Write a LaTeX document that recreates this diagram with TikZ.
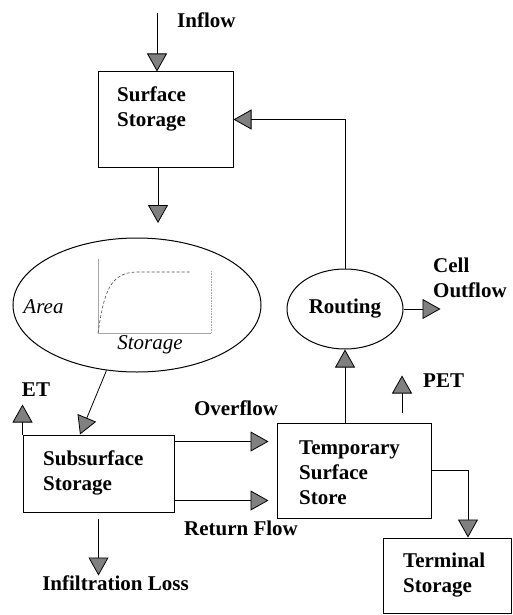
\documentclass[tikz,border=0pt]{standalone}
\usepackage{fontspec}
\setmainfont{Liberation Serif}
\usetikzlibrary{arrows.meta,shapes.geometric}

\begin{document}
\begin{tikzpicture}[x=1pt,y=-1pt,
  box/.style={draw, line width=1pt, inner sep=0pt},
  bubble/.style={draw, ellipse, line width=1pt, inner sep=0pt},
  lbl/.style={font=\fontsize{21}{25}\selectfont\bfseries, align=left, inner sep=0pt},
  axislbl/.style={font=\fontsize{21}{25}\selectfont\itshape, inner sep=0pt},
  flowarrow/.style={line width=0.8pt, -{Triangle[length=18pt,width=20pt,fill=black!50]}}]

\useasboundingbox (0,0) rectangle (512,615);

%draw the stores
\node [box, minimum width=135pt, minimum height=95pt] (surf) at (165.5,119.5) {};
\node [lbl, anchor=west] (surftxt) at (117,108.5) {Surface\\Storage};

\node [box, minimum width=151pt, minimum height=77pt] (sub) at (98.5,473.5) {};
\node [lbl, anchor=west] (subtxt) at (43,472.5) {Subsurface\\Storage};

\node [box, minimum width=154pt, minimum height=95pt] (temp) at (354,470.5) {};
\node [lbl, anchor=west] (temptxt) at (299,473) {Temporary\\Surface\\Store};

\node [box, minimum width=128pt, minimum height=75pt] (term) at (447,575.5) {};
\node [lbl, anchor=west] (termtxt) at (403,575.5) {Terminal\\Storage};

%draw the area-storage curve
\node [bubble, minimum width=248pt, minimum height=134pt] (area) at (137,305) {};
\node [axislbl] (arealbl) at (43.5,307) {Area};
\node [axislbl] (storlbl) at (150,345) {Storage};
\draw [gray!70, line width=0.7pt] (98,259) -- (98,333) -- (211,333);
\draw [gray!70, line width=0.6pt, densely dotted] (211,271) -- (211,333);
\draw [black!70, line width=0.6pt, densely dashed] (98,333) .. controls (104,292) and (110,273) .. (136,272) -- (190,272);

\node [bubble, minimum width=116pt, minimum height=80pt, lbl] (routing) at (345,309) {Routing};

%draw the flows
\coordinate (inflowtop) at (157,13);
\coordinate (areatop) at (158,223);
\draw [flowarrow] (inflowtop) -- (inflowtop |- surf.north);
\node [lbl, anchor=west] (inflow) at (177,20) {Inflow};

\draw [flowarrow] (areatop |- surf.south) -- (areatop);
\draw [flowarrow] (area.245) -- ([xshift=-18.5pt]sub.north);

\draw [flowarrow] (sub.north west) -- ++(0,-30);
\node [lbl] (et) at (36,390) {ET};

\draw [flowarrow] ([yshift=-7pt]sub.north east) -- ++(94,0);
\node [lbl] (overflow) at (236,408) {Overflow};
\draw [flowarrow] ([yshift=12pt]sub.south east) -- ++(94,0);
\node [lbl] (retflow) at (241,528) {Return Flow};

\draw [flowarrow] ([yshift=-6pt]sub.south) -- ++(0,57);
\node [lbl] (infil) at (115.5,583) {Infiltration Loss};

\draw [flowarrow] (routing.south |- temp.north) -- (routing.south);
\draw [flowarrow] (routing.north) -- (routing.north |- surf.east) -- (surf.east);

\draw [flowarrow] (routing.east) -- ++(37,0);
\node [lbl, anchor=west] (outflow) at (433,277.5) {Cell\\Outflow};

\draw [flowarrow] ([yshift=10pt]temp.north -| 402,0) -- ++(0,-37);
\node [lbl, anchor=west] (pet) at (423,381) {PET};

\draw [flowarrow] (temp.east) -| ([xshift=21pt]term.north);

\end{tikzpicture}
\end{document}
